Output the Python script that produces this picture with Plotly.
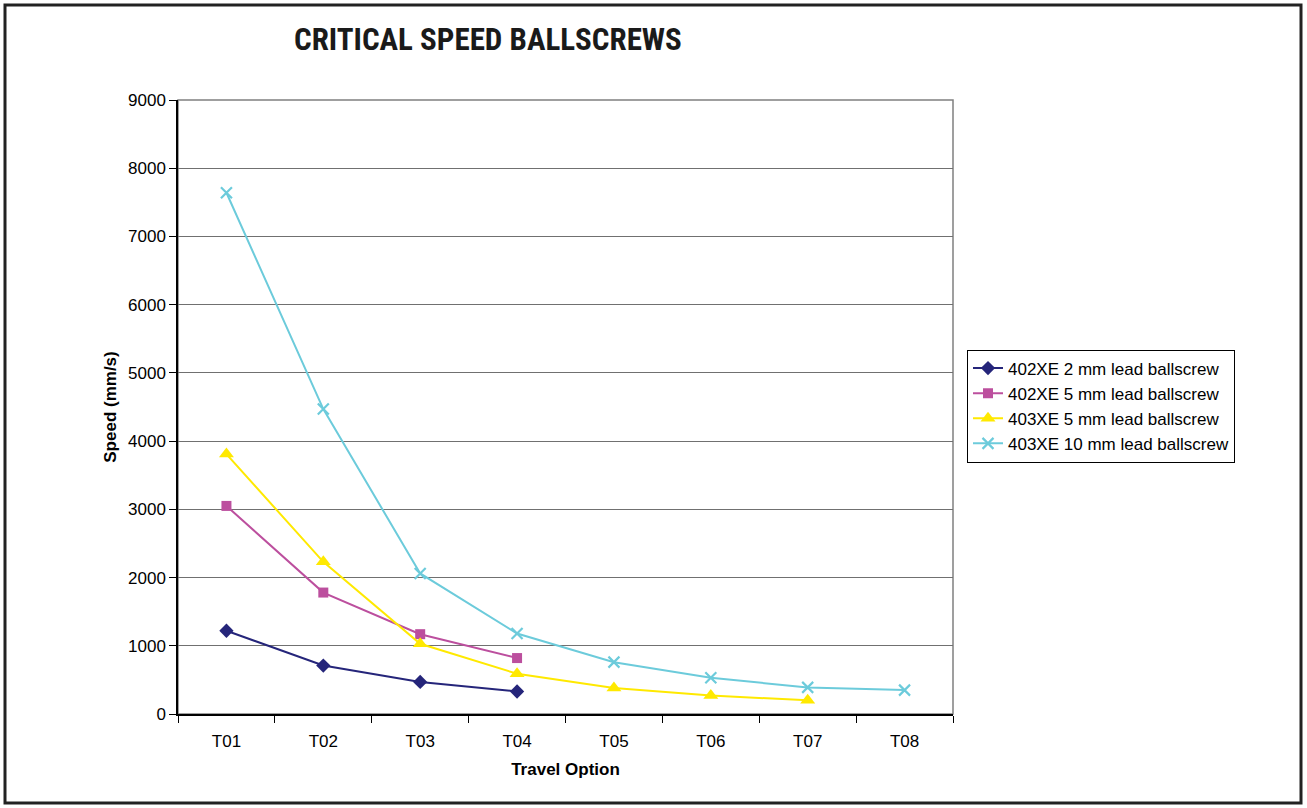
import plotly.graph_objects as go

categories = ["T01", "T02", "T03", "T04", "T05", "T06", "T07", "T08"]
s1_name = "402XE 2 mm lead ballscrew"
s1_vals = [1220, 710, 470, 330]
s2_name = "402XE 5 mm lead ballscrew"
s2_vals = [3050, 1780, 1170, 820]
s3_name = "403XE 5 mm lead ballscrew"
s3_vals = [3810, 2230, 1030, 590, 380, 270, 200]
s4_name = "403XE 10 mm lead ballscrew"
s4_vals = [7640, 4470, 2060, 1180, 760, 530, 390, 350]
y_ticks = [0, 1000, 2000, 3000, 4000, 5000, 6000, 7000, 8000, 9000]

W, H = 1307, 808
L, R, T, B = 178, 953, 100, 714
pw, ph = R - L, B - T

fig = go.Figure()
series = [
    (s1_name, s1_vals, "#25257A", dict(symbol="diamond", size=11)),
    (s2_name, s2_vals, "#BC4F9E", dict(symbol="square", size=10)),
    (s3_name, s3_vals, "#FFE900", dict(symbol="triangle-up", size=13)),
    (s4_name, s4_vals, "#6CCBDB", dict(symbol="x-thin-open", size=11)),
]
for name, vals, color, mk in series:
    m = dict(color=color, **mk)
    if mk["symbol"] == "x-thin-open":
        m["line"] = dict(width=2.2, color=color)
    fig.add_trace(go.Scatter(
        x=categories[:len(vals)], y=vals, name=name, mode="lines+markers",
        line=dict(color=color, width=2), marker=m,
    ))

fig.update_layout(
    width=W, height=H,
    margin=dict(l=L, r=W - R, t=T, b=H - B),
    paper_bgcolor="white", plot_bgcolor="white",
    font=dict(family="Liberation Sans, Arial, sans-serif", size=17, color="black"),
    showlegend=True,
    legend=dict(
        x=(967 - L) / pw, xanchor="left", y=(B - 406) / ph, yanchor="middle",
        bordercolor="black", borderwidth=1, bgcolor="white",
        font=dict(size=17), tracegroupgap=0,
    ),
    xaxis=dict(
        categoryorder="array", categoryarray=categories,
        range=[-0.5, 7.5], tickson="boundaries",
        showline=True, linecolor="black", linewidth=1.5,
        ticks="outside", ticklen=7, tickcolor="black", ticklabelstandoff=11,
        showgrid=False, zeroline=False,
        title=dict(text="<b>Travel Option</b>", font=dict(size=17), standoff=13),
    ),
    yaxis=dict(
        range=[0, 9000], tickvals=y_ticks,
        showline=True, linecolor="black", linewidth=1.5,
        ticks="outside", ticklen=7, tickcolor="black",
        showgrid=True, gridcolor="#707070", gridwidth=1, zeroline=False,
        title=dict(text="<b>Speed (mm/s)</b>", font=dict(size=17), standoff=7),
    ),
    annotations=[dict(
        text="<b>CRITICAL SPEED BALLSCREWS</b>",
        xref="paper", yref="paper", x=(488 - L) / pw, y=(B - 40) / ph,
        xanchor="center", yanchor="middle", showarrow=False,
        font=dict(family="Liberation Sans Narrow, Arial Narrow, Roboto Condensed, sans-serif", size=31, color="#1a1a1a"),
    )],
    shapes=[
        dict(type="rect", xref="paper", yref="paper", x0=0, x1=1, y0=0, y1=1,
             line=dict(color="#808080", width=1.5), layer="below"),
        dict(type="rect", xref="paper", yref="paper",
             x0=(5 - L) / pw, x1=(1301 - L) / pw, y0=(B - 803) / ph, y1=(B - 5) / ph,
             line=dict(color="#222222", width=3)),
    ],
)

fig.write_html(
    "out.html",
    config={"displayModeBar": False},
    post_script="document.body.style.margin='0';document.body.style.padding='0';document.body.style.overflow='hidden';",
)
